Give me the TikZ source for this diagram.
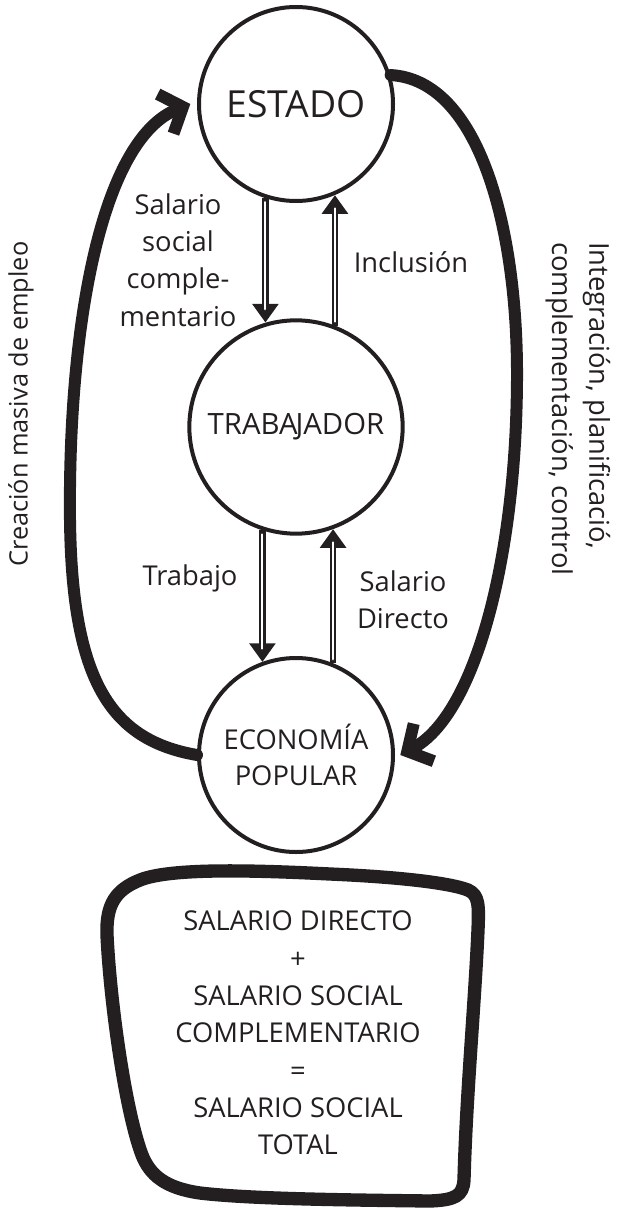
\documentclass[tikz,border=0pt]{standalone}
\usepackage{fontspec}
\setmainfont{Open Sans}
\usepackage{tikz}
\usetikzlibrary{arrows.meta}
\definecolor{ink}{RGB}{35,31,32}

\tikzset{
  circ/.style={draw=ink, circle, line width=3pt, inner sep=0pt, text=ink, align=center},
  lbl/.style={text=ink, align=center, inner sep=0pt, font=\fontsize{20.5}{28}\selectfont},
  flow/.style={draw=ink, line width=5pt, -{Triangle[length=14pt,width=19pt]},
    postaction={draw=white, line width=1.6pt, arrows=-, line cap=round, shorten <=3pt, shorten >=10pt}},
  bigarc/.style={draw=ink, line width=9pt, line cap=round, line join=round,
    -{Straight Barb[length=14pt,width=32pt]}},
}

\begin{document}
\begin{tikzpicture}[x=0.75pt,y=0.75pt,yscale=-1,xscale=1]
\useasboundingbox (0,0) rectangle (617,1209);

%Shape: Circle [estado]
\node[circ, minimum size=145.5pt, font=\fontsize{28}{32}\selectfont] (estado) at (296,104) {ESTADO};
%Shape: Circle [trabajador]
\node[circ, minimum size=160pt, font=\fontsize{22}{28}\selectfont] (trab) at (296,427) {TRABA\kern-1.5pt JADOR};
%Shape: Circle [economia]
\node[circ, minimum size=145.5pt, font=\fontsize{20.5}{27}\selectfont] (eco) at (296,755) {ECONOMÍA\\POPULAR};

%Double arrows between circles
\draw[flow] (estado.-108) -- (trab.106 -| estado.-108);
\draw[flow] (trab.69) -- (estado.-67 -| trab.69);
\draw[flow] (trab.-108) -- (eco.110 -| trab.-108);
\draw[flow] (eco.68) -- (trab.-70 -| eco.68);

%Thick loops
\draw[bigarc] (eco.west) .. controls (110,740) and (72,680) .. (70,520) .. controls (68,330) and (100,140) .. ([xshift=-5pt]estado.west);
\draw[bigarc] (estado.17) .. controls (480,80) and (518,230) .. (517,380) .. controls (516,560) and (475,715) .. ([xshift=4pt]eco.east);

%Shape: hand drawn box
\draw[ink, line width=10pt, line join=round] (140,880) .. controls (170,868) and (250,870) .. (330,874) .. controls (400,877) and (450,883) .. (468,890) .. controls (479,895) and (479,905) .. (478,930) .. controls (475,1000) and (466,1100) .. (464,1180) .. controls (463,1196) and (455,1200) .. (430,1201) .. controls (350,1200) and (250,1199) .. (200,1193) .. controls (165,1188) and (150,1175) .. (142,1155) .. controls (125,1110) and (110,1000) .. (107,935) .. controls (106,905) and (115,890) .. (140,880) -- cycle;

% Text Node
\node[lbl] (salsoc) at (178,260) {Salario\\social\\comple-\\mentario};
% Text Node
\node[lbl] (incl) at (411,262) {Inclusión};
% Text Node
\node[lbl] (trabajo) at (190,578) {Trabajo};
% Text Node
\node[lbl] (saldir) at (403,600) {Salario\\Directo};
% Text Node
\node[lbl, rotate=90, anchor=west, font=\fontsize{19}{26}\selectfont] (crea) at (21,567) {Creación masiva de empleo};
% Text Node
\node[lbl, rotate=-90, anchor=west, align=left] (integ) at (578,242) {Integración, planificació,\\complementación, control};
% Text Node
\node[lbl] (total) at (298,1033) {SALARIO DIRECTO\\+\\SALARIO SOCIAL\\COMPLEMENTARIO\\=\\SALARIO SOCIAL\\TOTAL};

\end{tikzpicture}
\end{document}
